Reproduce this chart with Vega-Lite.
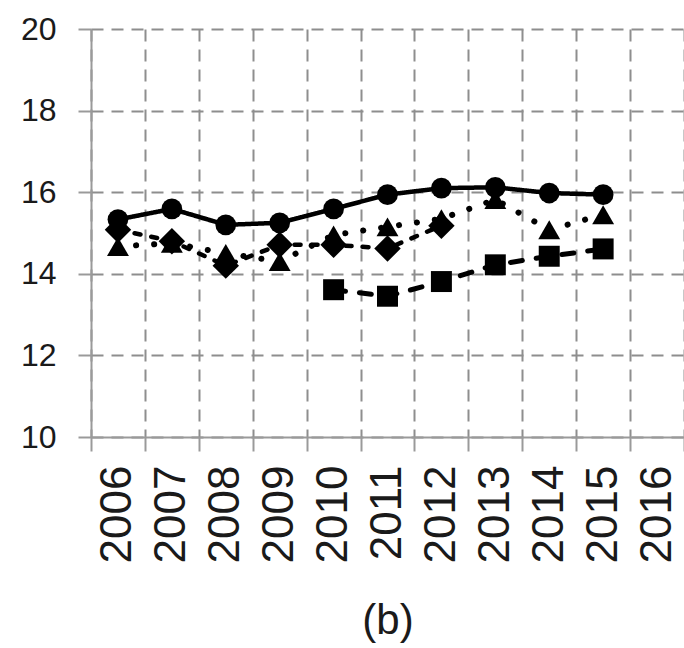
{
  "$schema": "https://vega.github.io/schema/vega-lite/v6.json",
  "autosize": {"type": "none"},
  "padding": {"left": 91, "top": 29, "right": 0, "bottom": 211},
  "width": 593,
  "height": 408,
  "background": "white",
  "config": {
    "view": {"stroke": null},
    "font": "Liberation Sans",
    "axis": {
      "domainColor": "#9a9a9a",
      "domainWidth": 2,
      "tickColor": "#9a9a9a",
      "tickWidth": 2,
      "gridColor": "#8e8e8e",
      "gridWidth": 2,
      "gridDash": [12, 8],
      "labelColor": "#1a1a1a",
      "titleColor": "#1a1a1a"
    }
  },
  "data": {
    "values": [
      {"year": "2006", "series": "S1", "value": 15.33},
      {"year": "2007", "series": "S1", "value": 15.59},
      {"year": "2008", "series": "S1", "value": 15.2},
      {"year": "2009", "series": "S1", "value": 15.25},
      {"year": "2010", "series": "S1", "value": 15.59},
      {"year": "2011", "series": "S1", "value": 15.94},
      {"year": "2012", "series": "S1", "value": 16.1},
      {"year": "2013", "series": "S1", "value": 16.12},
      {"year": "2014", "series": "S1", "value": 15.98},
      {"year": "2015", "series": "S1", "value": 15.94},
      {"year": "2006", "series": "S2", "value": 14.67},
      {"year": "2007", "series": "S2", "value": 14.75},
      {"year": "2008", "series": "S2", "value": 14.5},
      {"year": "2009", "series": "S2", "value": 14.3},
      {"year": "2010", "series": "S2", "value": 14.95},
      {"year": "2011", "series": "S2", "value": 15.15},
      {"year": "2012", "series": "S2", "value": 15.35},
      {"year": "2013", "series": "S2", "value": 15.82},
      {"year": "2014", "series": "S2", "value": 15.08},
      {"year": "2015", "series": "S2", "value": 15.45},
      {"year": "2006", "series": "S3", "value": 15.08},
      {"year": "2007", "series": "S3", "value": 14.8},
      {"year": "2008", "series": "S3", "value": 14.2},
      {"year": "2009", "series": "S3", "value": 14.71},
      {"year": "2010", "series": "S3", "value": 14.71},
      {"year": "2011", "series": "S3", "value": 14.62},
      {"year": "2012", "series": "S3", "value": 15.18},
      {"year": "2010", "series": "S4", "value": 13.61},
      {"year": "2011", "series": "S4", "value": 13.45},
      {"year": "2012", "series": "S4", "value": 13.81},
      {"year": "2013", "series": "S4", "value": 14.22},
      {"year": "2014", "series": "S4", "value": 14.43},
      {"year": "2015", "series": "S4", "value": 14.61}
    ]
  },
  "encoding": {
    "x": {
      "field": "year",
      "type": "ordinal",
      "scale": {
        "type": "band",
        "paddingInner": 0,
        "paddingOuter": 0,
        "domain": ["2006", "2007", "2008", "2009", "2010", "2011", "2012", "2013", "2014", "2015", "2016"]
      },
      "axis": {
        "tickBand": "extent",
        "grid": true,
        "labelAngle": -90,
        "labelFontSize": 44,
        "labelPadding": 14,
        "tickSize": 14,
        "title": "(b)",
        "titleFontSize": 42,
        "titleFontWeight": "normal",
        "titlePadding": 38
      }
    },
    "y": {
      "field": "value",
      "type": "quantitative",
      "scale": {"domain": [10, 20], "nice": false, "zero": false},
      "axis": {
        "values": [10, 12, 14, 16, 18, 20],
        "grid": true,
        "labelFontSize": 32,
        "labelPadding": 22,
        "tickSize": 13,
        "title": null
      }
    }
  },
  "layer": [
    {
      "mark": {"type": "line", "color": "black", "strokeCap": "round", "strokeJoin": "round"},
      "encoding": {
        "detail": {"field": "series", "type": "nominal"},
        "strokeDash": {
          "field": "series",
          "type": "nominal",
          "scale": {
            "domain": ["S1", "S2", "S3", "S4"],
            "range": [[1, 0], [0.1, 18], [6, 11], [12, 14]]
          },
          "legend": null
        },
        "strokeWidth": {
          "field": "series",
          "type": "nominal",
          "scale": {"type": "ordinal", "domain": ["S1", "S2", "S3", "S4"], "range": [4.5, 6, 4.5, 5]},
          "legend": null
        }
      }
    },
    {
      "transform": [{"filter": "datum.series === 'S3'"}],
      "mark": {"type": "point", "shape": "diamond", "filled": true, "color": "black", "opacity": 1, "size": 700},
      "encoding": {}
    },
    {
      "transform": [{"filter": "datum.series === 'S2'"}],
      "mark": {"type": "point", "shape": "triangle-up", "filled": true, "color": "black", "opacity": 1, "size": 480},
      "encoding": {}
    },
    {
      "transform": [{"filter": "datum.series === 'S4'"}],
      "mark": {"type": "point", "shape": "square", "filled": true, "color": "black", "opacity": 1, "size": 440},
      "encoding": {}
    },
    {
      "transform": [{"filter": "datum.series === 'S1'"}],
      "mark": {"type": "point", "shape": "circle", "filled": true, "color": "black", "opacity": 1, "size": 430},
      "encoding": {}
    }
  ]
}
